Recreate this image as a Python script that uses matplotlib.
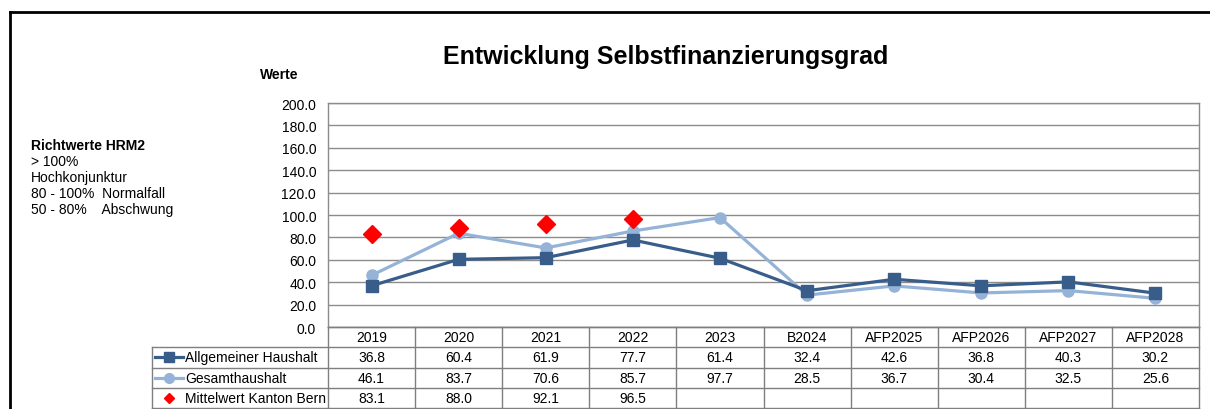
import matplotlib
matplotlib.use("Agg")
import matplotlib.pyplot as plt
from matplotlib.lines import Line2D

plt.rcParams['font.family'] = ['Liberation Sans', 'DejaVu Sans']

categories = ["2019", "2020", "2021", "2022", "2023", "B2024", "AFP2025", "AFP2026", "AFP2027", "AFP2028"]
allgemein = [36.8, 60.4, 61.9, 77.7, 61.4, 32.4, 42.6, 36.8, 40.3, 30.2]
gesamt = [46.1, 83.7, 70.6, 85.7, 97.7, 28.5, 36.7, 30.4, 32.5, 25.6]
mittelwert = [83.1, 88.0, 92.1, 96.5]
yticks = [0, 20, 40, 60, 80, 100, 120, 140, 160, 180, 200]
series_names = ["Allgemeiner Haushalt", "Gesamthaushalt", "Mittelwert Kanton Bern"]

W, H = 1210, 410
fig = plt.figure(figsize=(W / 100, H / 100), dpi=100)

def fx(px):
    return px / W

def fy(py):
    return 1 - py / H

dark = "#385D8A"
light = "#95B3D7"
red = "#FF0000"
grid_c = "#8C8C8C"

# outer frame
fig.add_artist(Line2D([fx(10), fx(1210)], [fy(13), fy(13)], color="black", lw=2))
fig.add_artist(Line2D([fx(10), fx(10)], [fy(13), fy(410)], color="black", lw=2))

# main plot area
L, R, T, B = 328, 1199, 104, 328
ax = fig.add_axes([fx(L), fy(B), fx(R - L), (B - T) / H])
x = list(range(len(categories)))
ax.set_xlim(-0.5, len(categories) - 0.5)
ax.set_ylim(0, 200)
ax.set_yticks(yticks)
ax.set_yticklabels([f"{v:.1f}" for v in yticks], fontsize=10)
ax.set_xticks([])
ax.tick_params(axis='y', length=0, pad=8.5)
ax.grid(axis='y', color=grid_c, lw=1)
for s in ax.spines.values():
    s.set_color(grid_c)
    s.set_linewidth(1)
ax.set_axisbelow(True)

ax.plot(x, gesamt, color=light, lw=2.3, marker='o', ms=8, zorder=3)
ax.plot(x, allgemein, color=dark, lw=2.3, marker='s', ms=8, zorder=4)
ax.plot(x[:len(mittelwert)], mittelwert, linestyle='none', color=red, marker='D', ms=9, zorder=5)

# titles
fig.text(fx(666), fy(57), "Entwicklung Selbstfinanzierungsgrad", fontsize=18, fontweight='bold',
         ha='center', va='center')
fig.text(fx(260), fy(75), "Werte", fontsize=10, fontweight='bold', ha='left', va='center')

# left text
fig.text(fx(31), fy(146), "Richtwerte HRM2", fontsize=10, fontweight='bold', ha='left', va='center')
left_lines = ["> 100%", "Hochkonjunktur", "80 - 100%  Normalfall", "50 - 80%    Abschwung"]
for i, t in enumerate(left_lines):
    fig.text(fx(31), fy(162 + 16 * i), t, fontsize=10, ha='left', va='center')

# data table
TL, TB = 152, 409
colw = (R - L) / len(categories)
tax = fig.add_axes([fx(TL), fy(TB), fx(R - TL), (TB - B) / H])
tax.set_xlim(-0.5 - (L - TL) / colw, len(categories) - 0.5)
tax.set_ylim(4, 0)
tax.axis('off')
xl = -0.5 - (L - TL) / colw
tc = "#7F7F7F"
# horizontal lines
tax.plot([-0.5, len(categories) - 0.5], [0, 0], color=tc, lw=1, clip_on=False)
for r in [1, 2, 3, 4]:
    tax.plot([xl, len(categories) - 0.5], [r, r], color=tc, lw=1, clip_on=False)
# vertical lines
tax.plot([xl, xl], [1, 4], color=tc, lw=1, clip_on=False)
for c in range(len(categories) + 1):
    tax.plot([c - 0.5, c - 0.5], [0, 4], color=tc, lw=1, clip_on=False)

for i, cat in enumerate(categories):
    tax.text(i, 0.5, cat, ha='center', va='center', fontsize=10)
table_series = [allgemein, gesamt, mittelwert]
for r, vals in enumerate(table_series, start=1):
    for i, v in enumerate(vals):
        tax.text(i, r + 0.5, f"{v:.1f}", ha='center', va='center', fontsize=10)

# legend keys in table
kx0 = xl + 3 / colw
kx1 = xl + 31 / colw
kxm = (kx0 + kx1) / 2
tax.plot([kx0, kx1], [1.5, 1.5], color=dark, lw=2.3, clip_on=False)
tax.plot([kxm], [1.5], color=dark, marker='s', ms=7, clip_on=False)
tax.plot([kx0, kx1], [2.5, 2.5], color=light, lw=2.3, clip_on=False)
tax.plot([kxm], [2.5], color=light, marker='o', ms=7, clip_on=False)
tax.plot([kxm], [3.5], color=red, marker='D', ms=5, clip_on=False, linestyle='none')
for r, name in enumerate(series_names, start=1):
    tax.text(xl + 33 / colw, r + 0.5, name, ha='left', va='center', fontsize=10)

fig.savefig("out.png", dpi=100)
